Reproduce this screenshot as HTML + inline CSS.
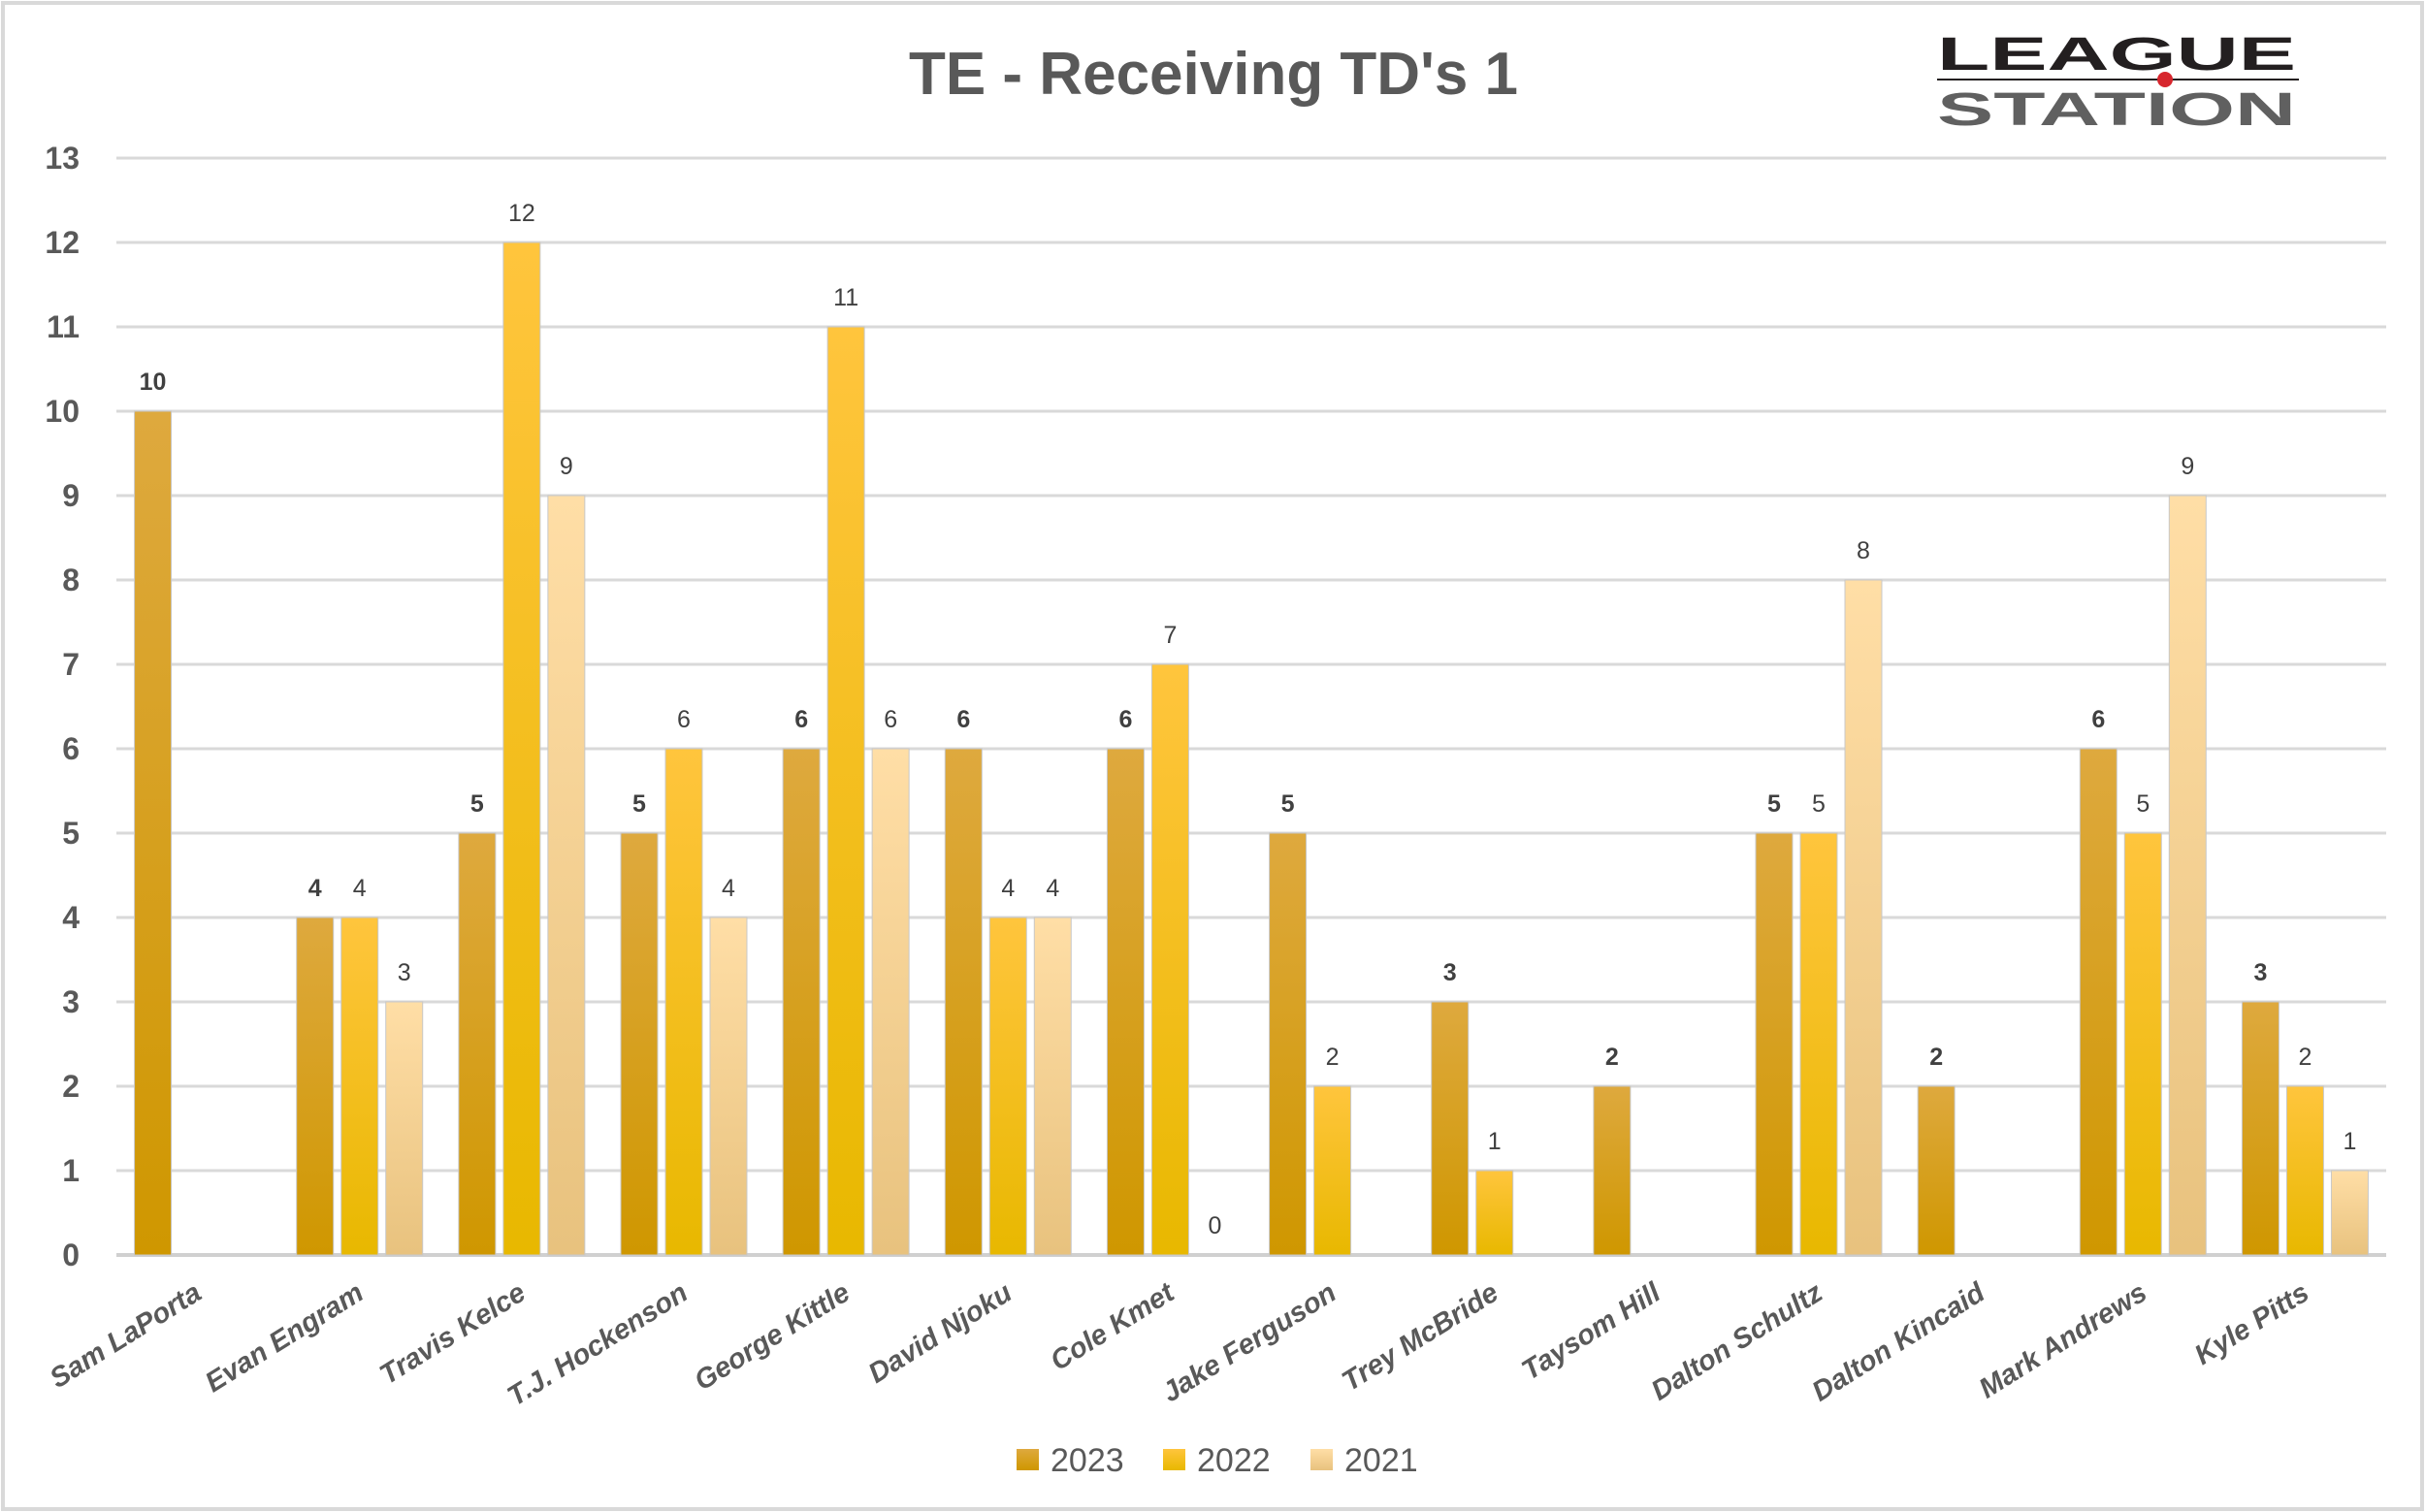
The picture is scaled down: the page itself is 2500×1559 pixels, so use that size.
<!DOCTYPE html>
<html><head><meta charset="utf-8"><style>
html,body{margin:0;padding:0;background:#fff;}
svg{display:block;font-family:"Liberation Sans",Calibri,sans-serif;}
</style></head><body>
<svg id="chart" width="2500" height="1559" viewBox="0 0 2500 1559">
<defs>
<linearGradient id="g23" x1="0" y1="0" x2="0" y2="1"><stop offset="0" stop-color="#dea93e"/><stop offset="1" stop-color="#cf9700"/></linearGradient>
<linearGradient id="g22" x1="0" y1="0" x2="0" y2="1"><stop offset="0" stop-color="#ffc53d"/><stop offset="1" stop-color="#e8b800"/></linearGradient>
<linearGradient id="g21" x1="0" y1="0" x2="0" y2="1"><stop offset="0" stop-color="#ffdea6"/><stop offset="1" stop-color="#e8c27e"/></linearGradient>
</defs>
<rect x="3" y="3" width="2494" height="1553" fill="#fff" stroke="#d9d9d9" stroke-width="4"/>
<text x="1251" y="97" text-anchor="middle" font-size="62" font-weight="bold" fill="#595959">TE - Receiving TD's 1</text>
<g>
<text x="1997" y="72" font-size="48" font-weight="bold" fill="#231f20" textLength="370" lengthAdjust="spacingAndGlyphs">LEAGUE</text>
<line x1="1997" y1="82" x2="2370" y2="82" stroke="#231f20" stroke-width="2"/>
<circle cx="2232" cy="82" r="8" fill="#d7262d"/>
<text x="1997" y="129" font-size="48" font-weight="bold" fill="#606060" textLength="370" lengthAdjust="spacingAndGlyphs">STATION</text>
</g>
<g id="grid"></g>
<g id="bars"></g>
<g id="labels"></g>
<g id="legend">
<rect x="1048" y="1494" width="23" height="22" fill="url(#g23)"/>
<text x="1083" y="1517" font-size="34" fill="#595959">2023</text>
<rect x="1199" y="1494" width="23" height="22" fill="url(#g22)"/>
<text x="1234" y="1517" font-size="34" fill="#595959">2022</text>
<rect x="1351" y="1494" width="23" height="22" fill="url(#g21)"/>
<text x="1386" y="1517" font-size="34" fill="#595959">2021</text>
</g>
</svg>
<script>
const categories = ["Sam LaPorta","Evan Engram","Travis Kelce","T.J. Hockenson","George Kittle","David Njoku","Cole Kmet","Jake Ferguson","Trey McBride","Taysom Hill","Dalton Schultz","Dalton Kincaid","Mark Andrews","Kyle Pitts"];
const series2023 = [10,4,5,5,6,6,6,5,3,2,5,2,6,3];
const series2022 = [null,4,12,6,11,4,7,2,1,null,5,null,5,2];
const series2021 = [null,3,9,4,6,4,0,null,null,null,8,null,9,1];
const yTicks = [0,1,2,3,4,5,6,7,8,9,10,11,12,13];

const NS = "http://www.w3.org/2000/svg";
const plotL = 120, plotR = 2460, y0 = 1294, unit = 87;
const band = (plotR - plotL) / categories.length;
const yScale = v => y0 - v * unit;
const xCenter = i => plotL + band * (i + 0.5);
function mk(tag, attrs, parent) {
  const el = document.createElementNS(NS, tag);
  for (const k in attrs) el.setAttribute(k, attrs[k]);
  parent.appendChild(el);
  return el;
}
const grid = document.getElementById('grid');
const bars = document.getElementById('bars');
const labels = document.getElementById('labels');

yTicks.forEach(t => {
  const ln = mk('line', {x1: plotL, x2: plotR, y1: yScale(t), y2: yScale(t), stroke: t === 0 ? '#d0d0d0' : '#d9d9d9', 'stroke-width': t === 0 ? 4 : 3}, grid);
  
  
  const tx = mk('text', {x: 82, y: yScale(t) + 11, 'text-anchor': 'end', 'font-size': 32, 'font-weight': 'bold', fill: '#595959'}, grid);
  tx.textContent = t;
  
  
});

const seriesList = [
  {vals: series2023, fill: 'url(#g23)', off: -46, bold: true, yr: '2023'},
  {vals: series2022, fill: 'url(#g22)', off: 0, bold: false, yr: '2022'},
  {vals: series2021, fill: 'url(#g21)', off: 46, bold: false, yr: '2021'}
];
const bw = 38;
seriesList.forEach(s => {
  s.vals.forEach((v, i) => {
    if (v === null) return;
    const cx = xCenter(i) + s.off;
    if (v > 0) {
      const r = mk('rect', {x: cx - bw / 2, y: yScale(v), width: bw, height: y0 - yScale(v), fill: s.fill, stroke: '#c8c8c8', 'stroke-width': 1}, bars);
      
      
    }
    const t = mk('text', {x: cx, y: yScale(v) - 22, 'text-anchor': 'middle', 'font-size': 25, 'font-weight': s.bold ? 'bold' : 'normal', fill: '#404040'}, labels);
    t.textContent = v;
    
    
  });
});

categories.forEach((c, i) => {
  const x = xCenter(i) + 6, y = 1338;
  const t = mk('text', {x: x, y: y, 'text-anchor': 'end', 'font-size': 29, 'font-weight': 'bold', 'font-style': 'italic', fill: '#595959', transform: 'rotate(-32 ' + x + ' ' + y + ')'}, labels);
  t.textContent = c;
  
  
});
</script>
</body></html>
